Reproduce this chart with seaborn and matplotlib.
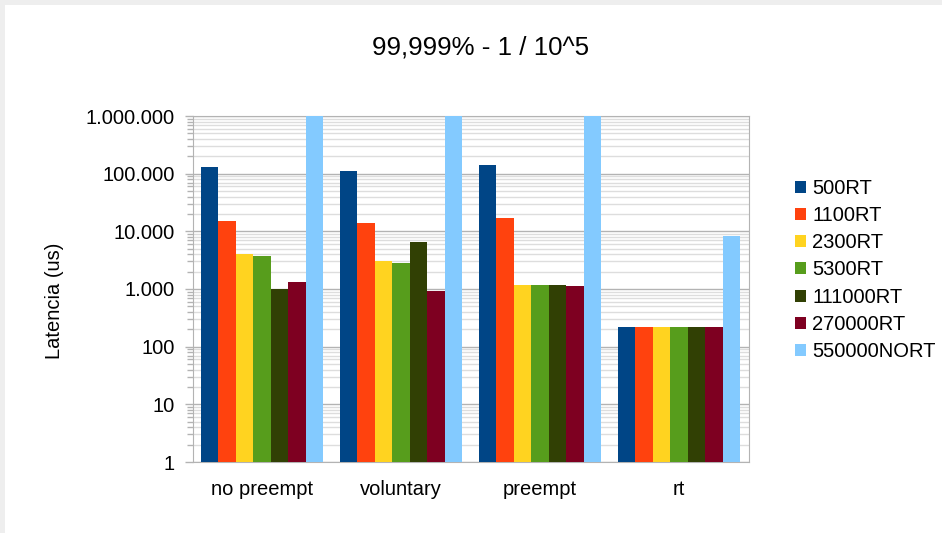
import numpy as np
import pandas as pd
import seaborn as sns
import matplotlib
matplotlib.use("Agg")
import matplotlib.pyplot as plt
from matplotlib.patches import Rectangle
from matplotlib.ticker import FuncFormatter, LogLocator, FixedLocator

categories = ["no preempt", "voluntary", "preempt", "rt"]
series = ["500RT", "1100RT", "2300RT", "5300RT", "111000RT", "270000RT", "550000NORT"]
colors = ["#004586", "#ff420e", "#ffd320", "#579d1c", "#314004", "#7e0021", "#83caff"]

# latency (us) per series, one value per category
values = {
    "500RT":      [130000, 111000, 141000, 220],
    "1100RT":     [15100, 14000, 17000, 220],
    "2300RT":     [4100, 3070, 1180, 220],
    "5300RT":     [3750, 2830, 1180, 220],
    "111000RT":   [1000, 6550, 1180, 220],
    "270000RT":   [1330, 927, 1130, 220],
    "550000NORT": [1000000, 1000000, 1000000, 8300],
}

rows = []
for s in series:
    for c, v in zip(categories, values[s]):
        rows.append({"kernel": c, "serie": s, "latencia": v})
df = pd.DataFrame(rows)

sns.set_style("white")
plt.rcParams["font.family"] = ["Liberation Sans", "DejaVu Sans"]
plt.rcParams["text.color"] = "black"
plt.rcParams["axes.labelcolor"] = "black"

fig = plt.figure(figsize=(9.42, 5.33), dpi=100)
fig.patch.set_facecolor("#eeeeee")
fig.patches.append(Rectangle((5 / 942, 0), 1, 1 - 5 / 533, transform=fig.transFigure,
                             facecolor="white", edgecolor="none", zorder=-10))

ax = fig.add_axes([192.5 / 942, 71 / 533, 556 / 942, 346 / 533])
ax.set_facecolor("none")
ax.set_zorder(1)

sns.barplot(data=df, x="kernel", y="latencia", hue="serie", order=categories,
            hue_order=series, palette=colors, width=0.88, saturation=1,
            linewidth=0, ax=ax, zorder=3)

ax.set_yscale("log")
ax.set_ylim(1, 1000000)
ax.set_xlim(-0.5, len(categories) - 0.5)
ax.yaxis.set_major_locator(LogLocator(base=10, numticks=10))
ax.yaxis.set_minor_locator(LogLocator(base=10, subs=np.arange(2, 10), numticks=20))
ax.yaxis.set_major_formatter(FuncFormatter(lambda v, p: f"{int(round(v)):,}".replace(",", ".")))
ax.yaxis.set_minor_formatter(FuncFormatter(lambda v, p: ""))

ax.grid(True, which="major", axis="y", color="#b3b3b3", linewidth=1, zorder=0)
ax.grid(True, which="minor", axis="y", color="#dddddd", linewidth=1, zorder=0)
ax.set_axisbelow(True)

ax.xaxis.set_minor_locator(FixedLocator(np.arange(-0.5, len(categories), 1)))
ax.tick_params(axis="x", which="major", length=0, labelsize=14.5, labelcolor="black", pad=13)
ax.tick_params(axis="x", which="minor", length=6.5, width=1, color="#b3b3b3", direction="out")
ax.tick_params(axis="y", which="major", length=6, width=1, color="#b3b3b3", labelsize=14.5,
               labelcolor="black", pad=7, left=True)
ax.tick_params(axis="y", which="minor", length=4, width=1, color="#b3b3b3", left=True)

for sp in ax.spines.values():
    sp.set_color("#b3b3b3")
    sp.set_visible(True)

ax.set_xlabel("")
ax.set_ylabel("")
fig.text(55 / 942, 1 - 301 / 533, "Latencia (us)", rotation=90,
         ha="center", va="center", fontsize=14.5)
fig.text(481 / 942, 1 - 47 / 533, "99,999% - 1 / 10^5", ha="center", va="center", fontsize=18.6)

ax.legend(loc="center left", bbox_to_anchor=(795 / 942, 1 - 270 / 533),
          bbox_transform=fig.transFigure, frameon=False, fontsize=14.5,
          handlelength=0.55, handleheight=0.55, handletextpad=0.3, labelspacing=0.41,
          borderaxespad=0, borderpad=0)

fig.savefig("out.png", dpi=100, facecolor=fig.get_facecolor())
